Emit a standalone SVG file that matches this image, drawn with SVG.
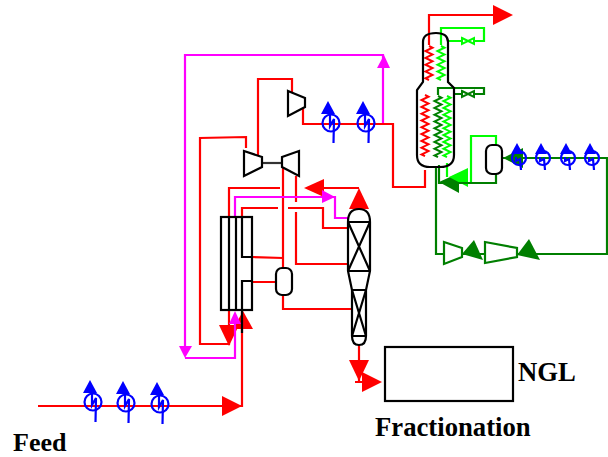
<svg xmlns="http://www.w3.org/2000/svg" xmlns:xlink="http://www.w3.org/1999/xlink" width="608" height="457" viewBox="0 0 608 457">
<style>
.l{fill:none;stroke-width:2.2;stroke-linejoin:miter}
.r{stroke:#ff0000}.m{stroke:#ff00ff}.g{stroke:#00ff00}.d{stroke:#007f00}
.z{stroke-width:2}
.k{fill:none;stroke:#000;stroke-width:2.2}
.w{fill:#fff;stroke:#000;stroke-width:2.2}
.fr{fill:#ff0000}.fm{fill:#ff00ff}.fg{fill:#00ff00}.fd{fill:#007f00}
.t{font-family:"Liberation Serif","Times New Roman",serif;font-weight:bold;font-size:26px;fill:#000}
.b{font-size:26.700px}
</style>
<defs>
<g id="cooler">
<circle cx="0" cy="0" r="8.500" fill="none" stroke="#0000ff" stroke-width="2.200"/>
<path d="M-1,-8 L-1,3 L3,-4 L2.500,20" fill="none" stroke="#0000ff" stroke-width="2.200"/>
<polygon points="-3,-22 -10,-9 4,-9" fill="#0000ff"/>
</g>
<g id="cooler2">
<circle cx="0" cy="0" r="7" fill="none" stroke="#0000ff" stroke-width="2.200"/>
<path d="M-3,-1 L-3,3 L1,1 L2,12" fill="none" stroke="#0000ff" stroke-width="2.200"/>
<polygon points="-2,-15 -8,-4 4,-4" fill="#0000ff"/>
</g>
<path id="zu" d="m0,0 l3.500,1.700 -7,3.400 7,3.400 -7,3.400 7,3.400 -7,3.400 7,3.400 -7,3.400 7,3.400 -7,3.400 3.500,1.700"/>
<path id="zl" d="m0,0 l3.500,1.700 -7,3.400 7,3.400 -7,3.400 7,3.400 -7,3.400 7,3.400 -7,3.400 7,3.400 -7,3.400 7,3.400 -7,3.400 7,3.400 -7,3.400 7,3.400 -7,3.400 7,3.400 -7,3.400 3.500,1.700"/>
</defs>
<rect width="608" height="457" fill="#fff"/>

<g id="connectors">
<path class="l r" d="M38,406 H242 V312"/>
<polygon class="fr" points="222,396 242,406 222,416"/>
<path class="l r" d="M242,217 V208 H278 M288,208 H323 V228 H348"/>
<path class="l r" d="M252,257 L283,258 M252,282 H276"/>
<path class="l r" d="M283,167 V268"/>
<path class="l r" d="M296,176 V202 M296,212 V264 H348"/>
<path class="l r" d="M283,295 V309 H352"/>
<path class="l r" d="M229,217 V188 H280"/>
<path class="l r" d="M246,148 V137 L200,138 V344 H229 V310"/>
<polygon class="fr" points="219,325 239,325 229,346"/>
<polygon class="fr" points="233,329 243,311 253,329"/>
<path class="l r" d="M258,155 V79 H292 V92"/>
<path class="l r" d="M303,107 V124 H393 V187 H425 V170"/>
<path class="l r" d="M429,45 V15 H495"/>
<polygon class="fr" points="493,5 513,15 493,25"/>
<path class="l r" d="M359,188 H323"/>
<polygon class="fr" points="304,188 324,179 324,197"/>
<polygon class="fr" points="359,188 349,209 369,209"/>
<path class="l r" d="M359,345 V382 M355,382 H364"/>
<polygon class="fr" points="349,360 369,360 359,381"/>
<polygon class="fr" points="362,372 382,382 362,392"/>
<path class="l m" d="M185,347 V55 H383 V123"/>
<polygon class="fm" points="384,55 377,68 390,68"/>
<polygon class="fm" points="179,346 192,346 185,358"/>
<path class="l m" d="M185,358 H235 V322"/>
<polygon class="fm" points="235,311 229,324 241,324"/>
<path class="l m" d="M235,217 V197 H335 V218 H348"/>
<polygon class="fm" points="322,190 335,197 322,203"/>
<path class="l g" d="M441,45 V28 H484 V41 H473 M463,41 H447"/>
<path class="l g" d="M447,163 V177"/>
<path class="l g" d="M471,182 V136 H496 V145"/>
<polygon class="fd" points="439,182 459,173 459,193"/>
<polygon class="fg" points="449,177 468,168 468,187"/>
<path class="l d" d="M438,95 V88 H484 V94 H473 M463,94 H453"/>
<path class="l d" d="M496,174 V183 H439 V165"/>
<path class="l d" d="M436,167 V254 H444"/>
<path class="l d" d="M462,254 H485 M517,254 H607 V158 H503"/>
<polygon class="fd" points="503,158 523,148 523,168"/>
<polygon class="fd" points="517,255 529,239 540,260"/>
<polygon class="fd" points="462,254 474,240 483,260"/>
<use xlink:href="#zu" href="#zu" x="429" y="46" class="l r z"/>
<use xlink:href="#zl" href="#zl" x="425" y="95" class="l r z"/>
<use xlink:href="#zu" href="#zu" x="441" y="46" class="l g z"/>
<use xlink:href="#zl" href="#zl" x="447" y="96" class="l g z"/>
<use xlink:href="#zl" href="#zl" x="438" y="96" class="l d z"/>
<path class="l g z" d="M462,38 L474,44 V38 L462,44 Z"/>
<path class="l d z" d="M462,91 L474,97 V91 L462,97 Z"/>
<path d="M262,163 H282" fill="none" stroke="#333" stroke-width="2.200"/>
<path class="k" d="M242,217 V257 H252 M252,281 H242 V333"/>
</g>

<g id="exchanger">
<rect class="k" x="221" y="217" width="31" height="93"/>
<path class="k" d="M229,217 V310 M236,217 V310"/>
</g>
<g id="compressor-a"><polygon class="w" points="244,151 262,157 262,167 244,176"/></g>
<g id="compressor-b"><polygon class="w" points="282,157 299,151 299,176 282,167"/></g>
<g id="compressor-c"><polygon class="w" points="288,91 305,98 305,107 288,116"/></g>
<g id="compressor-d"><polygon fill="none" stroke="#007f00" stroke-width="2.200" points="444,242 462,248 462,257 444,264"/></g>
<g id="compressor-e"><polygon fill="none" stroke="#007f00" stroke-width="2.200" points="485,242 517,248 517,257 485,263"/></g>
<g id="drum-1"><rect class="k" x="276" y="268" width="16" height="27" rx="6" ry="6"/></g>
<g id="drum-2"><rect class="k" x="486" y="145" width="16" height="29" rx="6" ry="6"/></g>
<g id="column-1">
<path class="k" d="M348,222 Q348,209 359,209 Q370,209 370,222 V271 L366,290 V336 Q366,345 359,345 Q352,345 352,336 V290 L348,271 Z"/>
<path class="k" d="M348,222 H370 M348,271 H370 M352,290 H366 M352,336 H366 M348,222 L370,271 M370,222 L348,271 M352,290 L366,336 M366,290 L352,336"/>
</g>
<g id="column-2">
<path class="k" d="M423,82 V42 Q423,33 436,33 Q448,33 448,42 V82 L454,88 V155 Q454,167 440,167 H430 Q417,167 417,155 V90 Z"/>
</g>
<g id="coolers">
<use href="#cooler" xlink:href="#cooler" x="93" y="402"/>
<use href="#cooler" xlink:href="#cooler" x="126" y="403"/>
<use href="#cooler" xlink:href="#cooler" x="160" y="404"/>
<use href="#cooler" xlink:href="#cooler" x="331" y="123"/>
<use href="#cooler" xlink:href="#cooler" x="366" y="123"/>
<use href="#cooler2" xlink:href="#cooler2" x="519" y="158"/>
<use href="#cooler2" xlink:href="#cooler2" x="543" y="158"/>
<use href="#cooler2" xlink:href="#cooler2" x="568" y="158"/>
<use href="#cooler2" xlink:href="#cooler2" x="592" y="158"/>
</g>
<g id="fractionation">
<rect class="k" x="385" y="347" width="128" height="54"/>
<text class="t b" x="375" y="436">Fractionation</text>
</g>
<text class="t b" x="518" y="381">NGL</text>
<text class="t" x="13" y="451">Feed</text>
</svg>
